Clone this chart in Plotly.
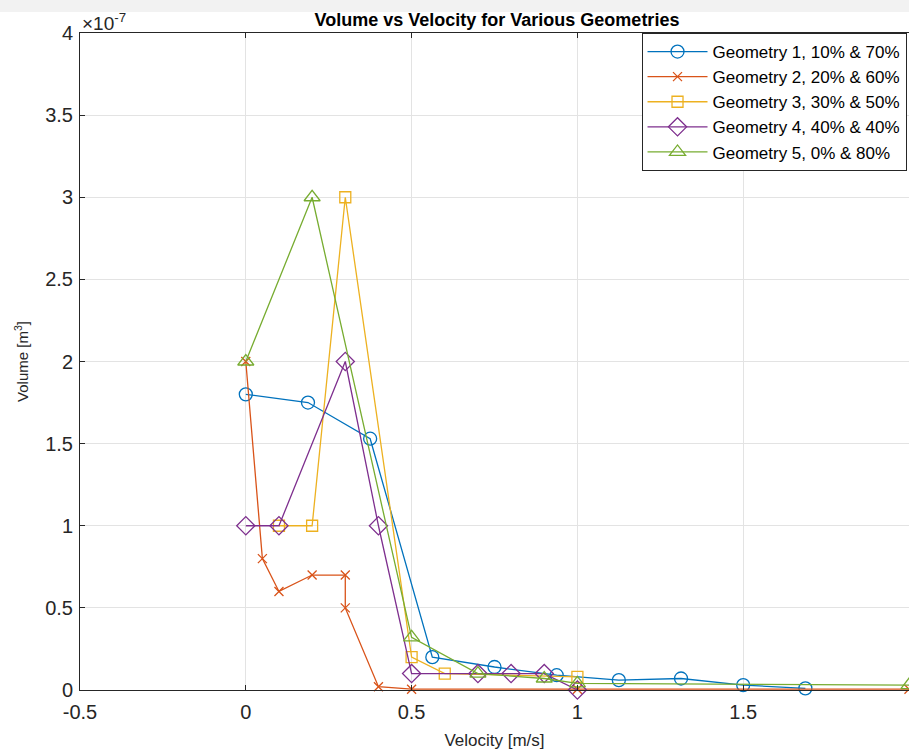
import plotly.graph_objects as go

# Volume readings are stored in units of 1e-7 m^3 (the axis carries the x10^-7 factor)
g1_vel = [0.0, 0.1875, 0.375, 0.5625, 0.75, 0.9375, 1.125, 1.3125, 1.5, 1.6875]
g1_vol = [1.80, 1.75, 1.53, 0.20, 0.14, 0.09, 0.06, 0.07, 0.03, 0.01]

g2_vel = [0.0, 0.05, 0.1, 0.2, 0.3, 0.3, 0.4, 0.5, 1.0, 2.0]
g2_vol = [2.00, 0.80, 0.60, 0.70, 0.70, 0.50, 0.02, 0.005, 0.005, 0.005]

g3_vel = [0.1, 0.2, 0.3, 0.5, 0.6, 1.0]
g3_vol = [1.00, 1.00, 3.00, 0.20, 0.10, 0.08]

g4_vel = [0.0, 0.1, 0.3, 0.4, 0.5, 0.7, 0.8, 0.9, 1.0]
g4_vol = [1.00, 1.00, 2.00, 1.00, 0.10, 0.10, 0.10, 0.10, 0.00]

g5_vel = [0.0, 0.2, 0.5, 0.7, 0.9, 1.0, 2.0]
g5_vol = [2.00, 3.00, 0.32, 0.10, 0.07, 0.04, 0.03]

names = [
    "Geometry 1, 10% & 70%",
    "Geometry 2, 20% & 60%",
    "Geometry 3, 30% & 50%",
    "Geometry 4, 40% & 40%",
    "Geometry 5, 0% & 80%",
]
colors = ["#0072BD", "#D95319", "#EDB120", "#7E2F8E", "#77AC30"]
symbols = ["circle-open", "x-thin-open", "square-open", "diamond-open", "triangle-up-open"]
sizes = [13, 9, 11, 14, 14]

series = [
    (g1_vel, g1_vol),
    (g2_vel, g2_vol),
    (g3_vel, g3_vol),
    (g4_vel, g4_vol),
    (g5_vel, g5_vol),
]

x_ticks = [-0.5, 0, 0.5, 1, 1.5, 2]
y_ticks = [0, 0.5, 1, 1.5, 2, 2.5, 3, 3.5, 4]

FONT = "Liberation Sans, Arial, sans-serif"
INK = "#262626"

fig = go.Figure()
for (xv, yv), name, c, sym, sz in zip(series, names, colors, symbols, sizes):
    fig.add_trace(go.Scatter(
        x=xv, y=yv, name=name, mode="lines+markers",
        line=dict(color=c, width=1.3),
        marker=dict(symbol=sym, size=sz, color=c, line=dict(color=c, width=1.3)),
        cliponaxis=False,
    ))

W, H = 909, 751
ML, MR, MT, MB = 80, 0, 33, 61
ph = H - MT - MB

fig.update_layout(
    width=W, height=H,
    margin=dict(l=ML, r=MR, t=MT, b=MB),
    paper_bgcolor="white", plot_bgcolor="white",
    font=dict(family=FONT, color=INK),
    title=dict(
        text="<b>Volume vs Velocity for Various Geometries</b>",
        font=dict(size=18, color="#000000", family=FONT),
        x=(497) / W, xanchor="center", y=1 - 20 / H, yanchor="middle",
    ),
    showlegend=True,
    legend=dict(
        x=0.997, xanchor="right", y=1.0, yanchor="top",
        bgcolor="white", bordercolor=INK, borderwidth=1,
        font=dict(size=17, color="#000000", family=FONT),
        tracegroupgap=0, itemwidth=60,
    ),
    xaxis=dict(
        range=[-0.5, 2.0], tickvals=x_ticks,
        ticktext=["-0.5", "0", "0.5", "1", "1.5", "2"],
        showgrid=True, gridcolor="#e3e3e3", gridwidth=1,
        zeroline=False, showline=True, linecolor=INK, linewidth=1,
        mirror="ticks", ticks="inside", ticklen=5, tickcolor=INK,
        tickfont=dict(size=20, color=INK), ticklabelstandoff=4,
        title=dict(text="Velocity [m/s]", font=dict(size=17, color=INK), standoff=12),
    ),
    yaxis=dict(
        range=[0, 4], tickvals=y_ticks,
        ticktext=["0", "0.5", "1", "1.5", "2", "2.5", "3", "3.5", "4"],
        showgrid=True, gridcolor="#e3e3e3", gridwidth=1,
        zeroline=False, showline=True, linecolor=INK, linewidth=1,
        ticks="inside", ticklen=5, tickcolor=INK,
        tickfont=dict(size=20, color=INK), ticklabelstandoff=2,
        title=dict(text="Volume [m<sup>3</sup>]", font=dict(size=15, color=INK), standoff=12),
    ),
    shapes=[
        dict(type="rect", xref="paper", yref="paper",
             x0=-ML / (W - ML - MR), x1=1.0,
             y0=1 + (MT - 12) / ph, y1=1 + MT / ph,
             fillcolor="#f2f2f2", line=dict(width=0), layer="below"),
    ],
    annotations=[
        dict(text="\u00d710<sup>-7</sup>", xref="paper", yref="paper",
             x=0.0, y=1.0, xanchor="left", yanchor="bottom", yshift=-3,
             showarrow=False, font=dict(size=19, color=INK, family=FONT)),
    ],
)

fig.write_html("out.html")
